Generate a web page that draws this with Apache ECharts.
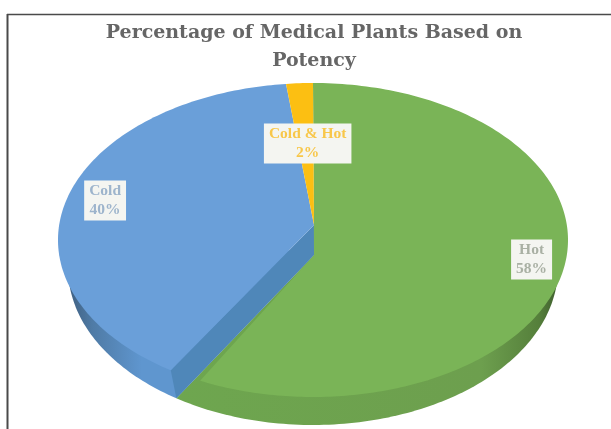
<!DOCTYPE html>
<html><head><meta charset="utf-8">
<style>html,body{margin:0;padding:0;background:#fff}#c{width:611px;height:429px}</style>
<script src="https://cdn.jsdelivr.net/npm/echarts@6/dist/echarts.min.js"></script>
</head><body><div id="c"></div>
<script>
var categories = ['Hot', 'Cold', 'Cold & Hot'];
var values = [58, 40, 2];
var faceColors = ['#7ab457', '#6a9fd9', '#fcbf12'];
var labelColors = ['#a9b0a4', '#9db4cc', '#f8c74a'];
var titleLines = ['Percentage of Medical Plants Based on', 'Potency'];

var CX = 313, CY = 240, RX = 255, RY = 157, BASE_RX = 245, BASE_CY = 268;
var APEX = {x: 314, upper: 225, lower: 255};
var WARP_GREEN = -0.095, WARP_REST = 0.17;
var LABEL_R = [0.885, 0.83, 0.52];
var total = values.reduce(function (a, b) { return a + b; }, 0);
var starts = []; values.reduce(function (a, v, i) { starts[i] = a; return a + v; }, 0);

function rim(frac, k, cx, cy, rx, ry) {
  var th = frac * 2 * Math.PI, x = Math.sin(th), y = -Math.cos(th);
  var d = 1 - k * y;
  return [cx + rx * x * Math.sqrt(1 - k * k) / d, cy + ry * (y - k) / d];
}
function arc(f0, f1, k, base) {
  var pts = [], n = Math.max(2, Math.ceil(Math.abs(f1 - f0) * 360));
  for (var i = 0; i <= n; i++) {
    var f = f0 + (f1 - f0) * i / n;
    pts.push(base ? rim(f, k, CX, BASE_CY, BASE_RX, RY) : rim(f, k, CX, CY, RX, RY));
  }
  return pts;
}
function poly(points, fill) {
  return {type: 'polygon', shape: {points: points}, style: {fill: fill}};
}
function sideGrad(stops) {
  return new echarts.graphic.LinearGradient(0, 0, 1, 0, stops);
}
function renderWalls(params) {
  var i = params.dataIndex, f0 = starts[i] / total, f1 = (starts[i] + values[i]) / total;
  var kids = [];
  if (i === 0) {
    kids.push(poly([[APEX.x, APEX.lower]].concat(arc(f1, 0.2, WARP_REST, true)), sideGrad([
      {offset: 0, color: '#6ea64f'}, {offset: 0.8, color: '#6d9f4e'}, {offset: 0.95, color: '#557f3b'}, {offset: 1, color: '#3f5f2e'}
    ])));
  } else if (i === 1) {
    kids.push(poly([[APEX.x, APEX.lower]].concat(arc(f0, 0.78, WARP_REST, true)), sideGrad([
      {offset: 0, color: '#3f5f80'}, {offset: 0.1, color: '#4f7ba6'}, {offset: 0.3, color: '#5f96cf'}, {offset: 1, color: '#5f96cf'}
    ])));
    var top = rim(f0, WARP_REST, CX, CY, RX, RY), low = rim(f0, WARP_REST, CX, BASE_CY, BASE_RX, RY);
    kids.push(poly([[APEX.x, APEX.upper], [APEX.x, APEX.lower], low, top], '#4f87b9'));
  }
  return {type: 'group', children: kids};
}
function renderFaces(params) {
  var i = params.dataIndex, f0 = starts[i] / total, f1 = (starts[i] + values[i]) / total;
  var apexY = i === 0 ? APEX.lower : APEX.upper, k = i === 0 ? WARP_GREEN : WARP_REST;
  return poly([[APEX.x, apexY]].concat(arc(f0, f1, k, false)), faceColors[i]);
}
function renderLabels(params) {
  var i = params.dataIndex, mid = (starts[i] + values[i] / 2) / total * 2 * Math.PI;
  return {
    type: 'text', z2: 10,
    x: CX + RX * LABEL_R[i] * Math.sin(mid) + (i === 2 ? 3 : 0),
    y: APEX.upper - RY * LABEL_R[i] * Math.cos(mid),
    style: {
      text: categories[i] + '\n' + values[i] + '%',
      fill: labelColors[i], font: 'bold 15.5px "Liberation Serif"', lineHeight: 19,
      align: 'center', verticalAlign: 'middle',
      backgroundColor: '#f4f5f1', padding: [1, 5, 1, 5]
    }
  };
}
var rows = categories.map(function (c, i) { return [c, values[i]]; });
var chart = echarts.init(document.getElementById('c'), null, {renderer: 'canvas'});
chart.setOption({
  animation: false,
  backgroundColor: '#ffffff',
  title: {
    text: titleLines.join('\n'), left: 309, top: 14, textAlign: 'center',
    textStyle: {fontFamily: 'DejaVu Serif', fontWeight: 'bold', fontSize: 19, color: '#666666', lineHeight: 28}
  },
  graphic: [
    {type: 'line', shape: {x1: 7.5, y1: 14, x2: 7.5, y2: 429}, style: {stroke: '#4a4a4a', lineWidth: 2}},
    {type: 'line', shape: {x1: 7, y1: 14.5, x2: 611, y2: 14.5}, style: {stroke: '#4a4a4a', lineWidth: 1.5}}
  ],
  series: [
    {type: 'custom', coordinateSystem: 'none', silent: true, data: rows, renderItem: renderWalls},
    {type: 'custom', coordinateSystem: 'none', silent: true, data: rows, renderItem: renderFaces},
    {type: 'custom', coordinateSystem: 'none', silent: true, data: rows, renderItem: renderLabels}
  ]
});
</script></body></html>
